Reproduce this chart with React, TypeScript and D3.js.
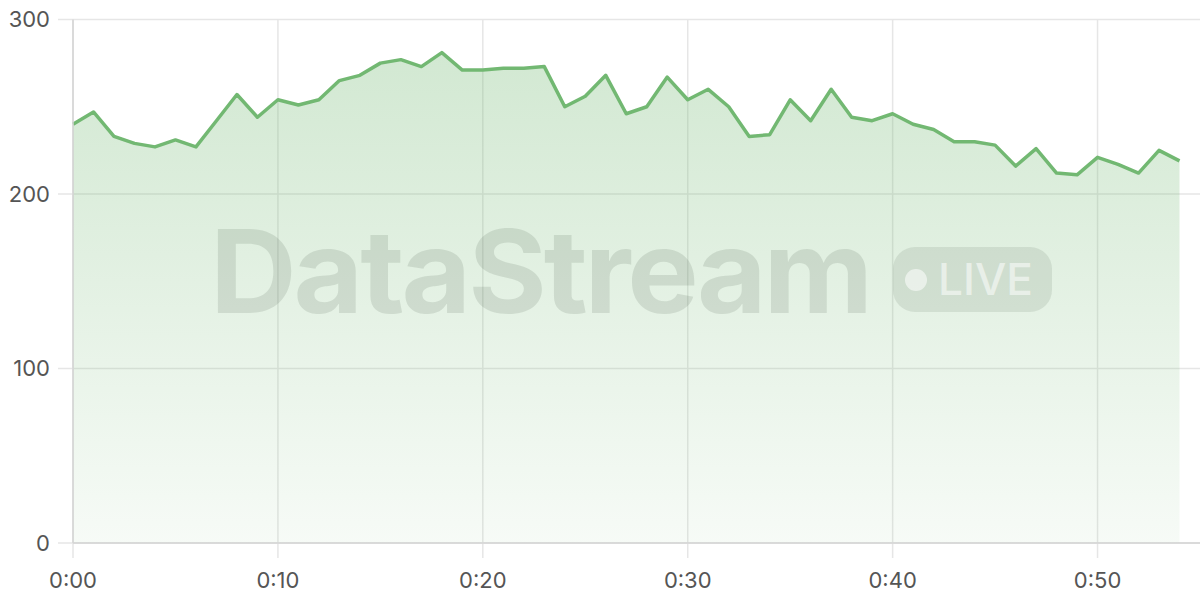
import React, { useEffect, useRef } from 'react';
import * as d3 from 'd3';

// minutes since start, one sample per minute
const minutes = d3.range(0, 55);
const values = [
  240, 247, 233, 229, 227, 231, 227, 242, 257, 244,
  254, 251, 254, 265, 268, 275, 277, 273, 281, 271,
  271, 272, 272, 273, 250, 256, 268, 246, 250, 267,
  254, 260, 250, 233, 234, 254, 242, 260, 244, 242,
  246, 240, 237, 230, 230, 228, 216, 226, 212, 211,
  221, 217, 212, 225, 219,
];
const xTicks = [0, 10, 20, 30, 40, 50];
const yTicks = [0, 100, 200, 300];

const App = () => {
  const ref = useRef(null);

  useEffect(() => {
    const svg = d3.select(ref.current);
    svg.selectAll('*').remove();

    const width = 1200;
    const height = 600;
    const marginTop = 19.5;
    const marginLeft = 73;
    const marginRight = 0;
    const marginBottom = 57;

    const x = d3.scaleLinear().domain([0, 55]).range([marginLeft, width - marginRight]);
    const y = d3.scaleLinear().domain([0, 300]).range([height - marginBottom, marginTop]);

    const data = minutes.map((m, i) => ({ m, v: values[i] }));

    // gradient for the area
    const defs = svg.append('defs');
    const grad = defs.append('linearGradient')
      .attr('id', 'areaFill')
      .attr('x1', 0).attr('y1', 0).attr('x2', 0).attr('y2', 1);
    grad.append('stop').attr('offset', '0%').attr('stop-color', '#72b872').attr('stop-opacity', 0.32);
    grad.append('stop').attr('offset', '100%').attr('stop-color', '#72b872').attr('stop-opacity', 0.06);

    // horizontal grid (extends left as tick)
    svg.append('g')
      .selectAll('line')
      .data(yTicks)
      .join('line')
      .attr('x1', marginLeft - 15)
      .attr('x2', width)
      .attr('y1', d => y(d))
      .attr('y2', d => y(d))
      .attr('stroke', '#e6e6e6')
      .attr('stroke-width', 1.5);

    // vertical grid
    svg.append('g')
      .selectAll('line')
      .data(xTicks)
      .join('line')
      .attr('x1', d => x(d))
      .attr('x2', d => x(d))
      .attr('y1', marginTop)
      .attr('y2', height - marginBottom + 15)
      .attr('stroke', '#e6e6e6')
      .attr('stroke-width', 1.5);

    // area + line
    const area = d3.area()
      .x(d => x(d.m))
      .y0(y(0))
      .y1(d => y(d.v));
    const line = d3.line()
      .x(d => x(d.m))
      .y(d => y(d.v));

    svg.append('path')
      .datum(data)
      .attr('d', area)
      .attr('fill', 'url(#areaFill)');

    // watermark
    const wm = svg.append('g').attr('transform', `translate(210, 0)`);
    wm.append('text')
      .attr('x', 0)
      .attr('y', 313)
      .attr('font-family', 'Inter, "Noto Sans", sans-serif')
      .attr('font-weight', 700)
      .attr('font-size', 115)
      .attr('letter-spacing', -3)
      .attr('textLength', 660)
      .attr('lengthAdjust', 'spacingAndGlyphs')
      .attr('fill', 'rgba(40,60,40,0.12)')
      .text('DataStream');
    wm.append('rect')
      .attr('x', 683)
      .attr('y', 247)
      .attr('width', 159)
      .attr('height', 65)
      .attr('rx', 22)
      .attr('fill', 'rgba(40,60,40,0.10)');
    wm.append('circle')
      .attr('cx', 706)
      .attr('cy', 280)
      .attr('r', 11)
      .attr('fill', 'rgba(255,255,255,0.55)');
    wm.append('text')
      .attr('x', 728)
      .attr('y', 295)
      .attr('font-family', 'Inter, "Noto Sans", sans-serif')
      .attr('font-weight', 500)
      .attr('font-size', 44)
      .attr('textLength', 95)
      .attr('lengthAdjust', 'spacingAndGlyphs')
      .attr('fill', 'rgba(255,255,255,0.55)')
      .text('LIVE');

    svg.append('path')
      .datum(data)
      .attr('d', line)
      .attr('fill', 'none')
      .attr('stroke', '#72b872')
      .attr('stroke-width', 3.5)
      .attr('stroke-linejoin', 'round');

    // axis lines
    svg.append('line')
      .attr('x1', marginLeft).attr('x2', width)
      .attr('y1', y(0)).attr('y2', y(0))
      .attr('stroke', '#d4d4d4')
      .attr('stroke-width', 1.5);
    svg.append('line')
      .attr('x1', marginLeft).attr('x2', marginLeft)
      .attr('y1', marginTop).attr('y2', y(0))
      .attr('stroke', '#d4d4d4')
      .attr('stroke-width', 1.5);

    // y labels
    svg.append('g')
      .selectAll('text')
      .data(yTicks)
      .join('text')
      .attr('x', marginLeft - 23)
      .attr('y', d => y(d))
      .attr('dy', '0.35em')
      .attr('text-anchor', 'end')
      .attr('font-family', 'Inter, "Noto Sans", sans-serif')
      .attr('font-size', 22)
      .attr('fill', '#555')
      .text(d => d);

    // x labels
    svg.append('g')
      .selectAll('text')
      .data(xTicks)
      .join('text')
      .attr('x', d => x(d))
      .attr('y', 588)
      .attr('text-anchor', 'middle')
      .attr('font-family', 'Inter, "Noto Sans", sans-serif')
      .attr('font-size', 22)
      .attr('fill', '#555')
      .text(d => `0:${String(d).padStart(2, '0')}`);
  }, []);

  return (
    <svg ref={ref} width={1200} height={600} style={{ position: 'absolute', left: 0, top: 0, background: '#fff' }} />
  );
};

export default App;
